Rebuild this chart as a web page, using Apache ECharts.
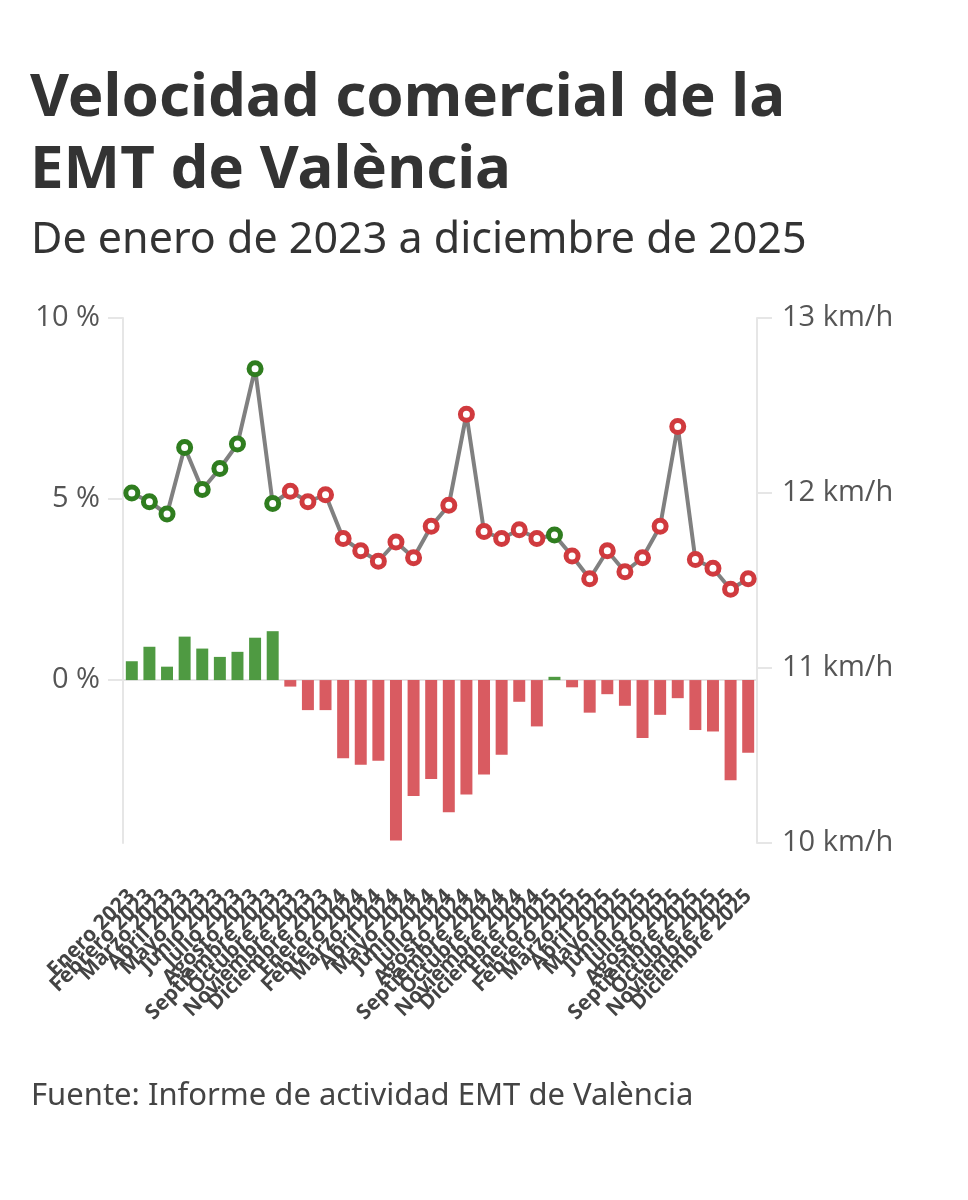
<!DOCTYPE html>
<html>
<head>
<meta charset="utf-8">
<script src="https://cdn.jsdelivr.net/npm/echarts@6/dist/echarts.min.js"></script>
<style>
  html, body { margin: 0; padding: 0; background: #fff; }
  #chart { width: 968px; height: 1200px; }
</style>
</head>
<body>
<div id="chart"></div>
<script>
// meses del periodo
var categories = [
  'Enero 2023', 'Febrero 2023', 'Marzo 2023', 'Abril 2023', 'Mayo 2023', 'Junio 2023',
  'Julio 2023', 'Agosto 2023', 'Septiembre 2023', 'Octubre 2023', 'Noviembre 2023', 'Diciembre 2023',
  'Enero 2024', 'Febrero 2024', 'Marzo 2024', 'Abril 2024', 'Mayo 2024', 'Junio 2024',
  'Julio 2024', 'Agosto 2024', 'Septiembre 2024', 'Octubre 2024', 'Noviembre 2024', 'Diciembre 2024',
  'Enero 2025', 'Febrero 2025', 'Marzo 2025', 'Abril 2025', 'Mayo 2025', 'Junio 2025',
  'Julio 2025', 'Agosto 2025', 'Septiembre 2025', 'Octubre 2025', 'Noviembre 2025', 'Diciembre 2025'
];

// velocidad comercial (km/h) - eje derecho
var velocidad = [
  12.00, 11.95, 11.88, 12.26, 12.02, 12.14, 12.28, 12.71, 11.94, 12.01, 11.95, 11.99,
  11.74, 11.67, 11.61, 11.72, 11.63, 11.81, 11.93, 12.45, 11.78, 11.74, 11.79, 11.74,
  11.76, 11.64, 11.51, 11.67, 11.55, 11.63, 11.81, 12.38, 11.62, 11.57, 11.45, 11.51
];

// variación interanual (%) - eje izquierdo
var variacion = [
  0.52, 0.92, 0.37, 1.20, 0.87, 0.64, 0.78, 1.17, 1.35, -0.18, -0.83, -0.83,
  -2.16, -2.34, -2.23, -4.43, -3.20, -2.73, -3.65, -3.16, -2.61, -2.06, -0.60, -1.28,
  0.09, -0.20, -0.90, -0.39, -0.71, -1.60, -0.96, -0.50, -1.38, -1.42, -2.77, -2.01
];

var leftTicks = [0, 5, 10];

var verdeBarra = '#4f9a42';
var rojoBarra = '#d95b61';
var verdePunto = '#2f7d1f';
var rojoPunto = '#d03a3e';

var chart = echarts.init(document.getElementById('chart'));

var barData = variacion.map(function (v) {
  return { value: v, itemStyle: { color: v >= 0 ? verdeBarra : rojoBarra } };
});
var lineData = velocidad.map(function (v, i) {
  return {
    value: v,
    itemStyle: { borderColor: variacion[i] >= 0 ? verdePunto : rojoPunto }
  };
});

var axisText = { color: '#555', fontSize: 29, fontFamily: '"Open Sans", sans-serif' };

var option = {
  backgroundColor: '#ffffff',
  animation: false,
  title: [
    {
      text: 'Velocidad comercial de la\nEMT de València',
      left: 25,
      top: 58,
      textStyle: {
        color: '#333',
        fontSize: 60,
        fontWeight: 'bold',
        lineHeight: 72,
        fontFamily: '"Noto Sans", sans-serif'
      }
    },
    {
      text: 'De enero de 2023 a diciembre de 2025',
      left: 26,
      top: 214,
      textStyle: {
        color: '#333',
        fontSize: 43,
        fontWeight: 'normal',
        fontFamily: '"Noto Sans", sans-serif'
      }
    },
    {
      text: 'Fuente: Informe de actividad EMT de València',
      left: 26,
      top: 1076,
      textStyle: {
        color: '#444',
        fontSize: 31,
        fontWeight: 'normal',
        fontFamily: '"Noto Sans", sans-serif'
      }
    }
  ],
  grid: {
    left: 123,
    right: 211,
    top: 318,
    bottom: 357,
    containLabel: false
  },
  xAxis: {
    type: 'category',
    data: categories,
    boundaryGap: true,
    axisLine: { lineStyle: { color: '#e6e6e6', width: 2 } },
    axisTick: { alignWithLabel: true, length: 16, lineStyle: { color: '#e6e6e6', width: 2 } },
    axisLabel: {
      interval: 0,
      rotate: 45,
      margin: 50,
      color: '#444',
      fontSize: 21,
      fontWeight: 'bold',
      fontFamily: '"Open Sans", sans-serif'
    },
    splitLine: { show: false }
  },
  yAxis: [
    {
      type: 'value',
      min: -4.5,
      max: 10,
      position: 'left',
      axisLine: { show: true, lineStyle: { color: '#e6e6e6', width: 2 } },
      axisTick: { show: true, customValues: leftTicks, length: 15, lineStyle: { color: '#e6e6e6', width: 2 } },
      axisLabel: Object.assign({
        customValues: leftTicks,
        margin: 23,
        formatter: function (v) { return v + ' %'; }
      }, axisText),
      splitLine: { show: false }
    },
    {
      type: 'value',
      min: 10,
      max: 13,
      interval: 1,
      position: 'right',
      axisLine: { show: true, lineStyle: { color: '#e6e6e6', width: 2 } },
      axisTick: { show: true, length: 15, lineStyle: { color: '#e6e6e6', width: 2 } },
      axisLabel: Object.assign({
        margin: 25,
        formatter: function (v) { return v + ' km/h'; }
      }, axisText),
      splitLine: { show: false }
    }
  ],
  series: [
    {
      name: 'Variación',
      type: 'bar',
      yAxisIndex: 0,
      data: barData,
      barCategoryGap: '32%'
    },
    {
      name: 'Velocidad',
      type: 'line',
      yAxisIndex: 1,
      data: lineData,
      symbol: 'circle',
      symbolSize: 12,
      lineStyle: { color: '#808080', width: 4 },
      itemStyle: { color: '#ffffff', borderWidth: 5 },
      z: 3
    }
  ]
};

chart.setOption(option);
</script>
</body>
</html>
